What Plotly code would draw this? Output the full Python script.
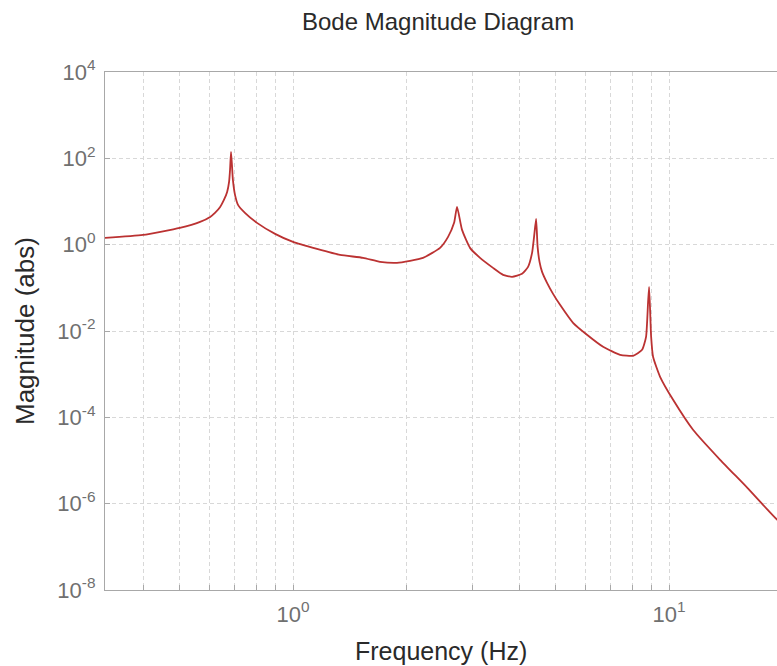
import plotly.graph_objects as go

# Frequency (Hz) and magnitude (abs)
freq_hz = [0.316, 0.399, 0.50, 0.566, 0.602, 0.620, 0.640, 0.655, 0.668, 0.676,
           0.680, 0.684, 0.688, 0.692, 0.701, 0.714, 0.745, 0.802, 0.896, 1.0,
           1.158, 1.334, 1.536, 1.704, 1.89, 2.216, 2.46, 2.584, 2.681, 2.73,
           2.815, 2.956, 3.143, 3.403, 3.619, 3.823, 4.064, 4.217, 4.322, 4.375,
           4.43, 4.471, 4.524, 4.595, 4.737, 4.915, 5.13, 5.555, 6.05, 6.676,
           7.41, 8.02, 8.477, 8.685, 8.792, 8.85, 8.96, 9.066, 9.465, 10.25,
           11.58, 13.67, 16.13, 19.37, 20.5]
magnitude = [1.44, 1.69, 2.45, 3.37, 4.4, 5.45, 7.5, 10.9, 16.7, 28.4,
             53.9, 141, 70.3, 31.6, 14.2, 8.34, 5.45, 3.2, 1.78, 1.16,
             0.80, 0.58, 0.495, 0.40, 0.379, 0.495, 0.843, 1.516, 3.20, 7.5,
             2.20, 0.843, 0.495, 0.290, 0.200, 0.180, 0.211, 0.306, 0.646, 1.516,
             3.95, 0.889, 0.40, 0.2346, 0.1305, 0.0726, 0.0404, 0.01548, 0.00817, 0.0043,
             0.00281, 0.00267, 0.00367, 0.00734, 0.045, 0.105, 0.00734, 0.00253, 0.000871, 0.000255,
             5.16e-5, 1.04e-5, 2.35e-6, 4.26e-7, 2.9e-7]

x_major_vals = [1, 10]
x_major_text = ["10<sup>0</sup>", "10<sup>1</sup>"]
x_minor_vals = [0.4, 0.5, 0.6, 0.7, 0.8, 0.9, 2, 3, 4, 5, 6, 7, 8, 9, 20]
y_tick_vals = [1e4, 1e2, 1e0, 1e-2, 1e-4, 1e-6, 1e-8]
y_tick_text = ["10<sup>4</sup>", "10<sup>2</sup>", "10<sup>0</sup>", "10<sup>-2</sup>",
               "10<sup>-4</sup>", "10<sup>-6</sup>", "10<sup>-8</sup>"]

title_text = "Bode Magnitude Diagram"
x_title = "Frequency (Hz)"
y_title = "Magnitude (abs)"

FONT = "Liberation Sans, Arial, sans-serif"
AXIS = "#a8a8a8"
GRID = "#d8d8d8"
LABEL = "#707070"
DARK = "#2a2a2a"

W, H = 777, 666
L, R, T, B = 105, 0, 72, 76
PW, PH = W - L - R, H - T - B

fig = go.Figure()
fig.add_trace(go.Scatter(
    x=freq_hz, y=magnitude, mode="lines",
    line=dict(color="#bb3232", width=1.8, shape="spline", smoothing=0.5),
    showlegend=False, hoverinfo="x+y",
))

fig.update_layout(
    width=W, height=H,
    margin=dict(l=L, r=R, t=T, b=B),
    paper_bgcolor="white", plot_bgcolor="white",
    font=dict(family=FONT, color=DARK),
    annotations=[
        dict(text=title_text, xref="paper", yref="paper",
             x=(300 - L) / PW, y=1 + (T - 21) / PH,
             xanchor="left", yanchor="middle", showarrow=False,
             font=dict(size=24, color=DARK, family=FONT)),
        dict(text=x_title, xref="paper", yref="paper",
             x=0.5, y=-(651 - (T + PH)) / PH,
             xanchor="center", yanchor="middle", showarrow=False,
             font=dict(size=25, color=DARK, family=FONT)),
        dict(text=y_title, xref="paper", yref="paper",
             x=(25 - L) / PW, y=0.5, textangle=-90,
             xanchor="center", yanchor="middle", showarrow=False,
             font=dict(size=26, color=DARK, family=FONT)),
    ],
)

fig.update_xaxes(
    type="log", range=[-0.5, 1.287],
    tickmode="array", tickvals=x_major_vals, ticktext=x_major_text,
    tickfont=dict(size=22, color=LABEL),
    ticks="inside", ticklen=5, tickcolor=AXIS, ticklabelstandoff=4,
    showline=True, linecolor=AXIS, linewidth=1.2, mirror=True,
    showgrid=True, gridcolor=GRID, griddash="4px,3px", gridwidth=1,
    zeroline=False,
    minor=dict(tickmode="array", tickvals=x_minor_vals, ticks="inside", ticklen=5,
               tickcolor=AXIS, showgrid=True, gridcolor=GRID, griddash="4px,3px"),
)
fig.update_yaxes(
    type="log", range=[-8, 4],
    tickmode="array", tickvals=y_tick_vals, ticktext=y_tick_text,
    tickfont=dict(size=22, color=LABEL),
    ticks="inside", ticklen=5, tickcolor=AXIS, ticklabelstandoff=4,
    showline=True, linecolor=AXIS, linewidth=1.2, mirror=False,
    showgrid=True, gridcolor=GRID, griddash="4px,3px", gridwidth=1,
    zeroline=False,
)

fig.write_html("out.html")
